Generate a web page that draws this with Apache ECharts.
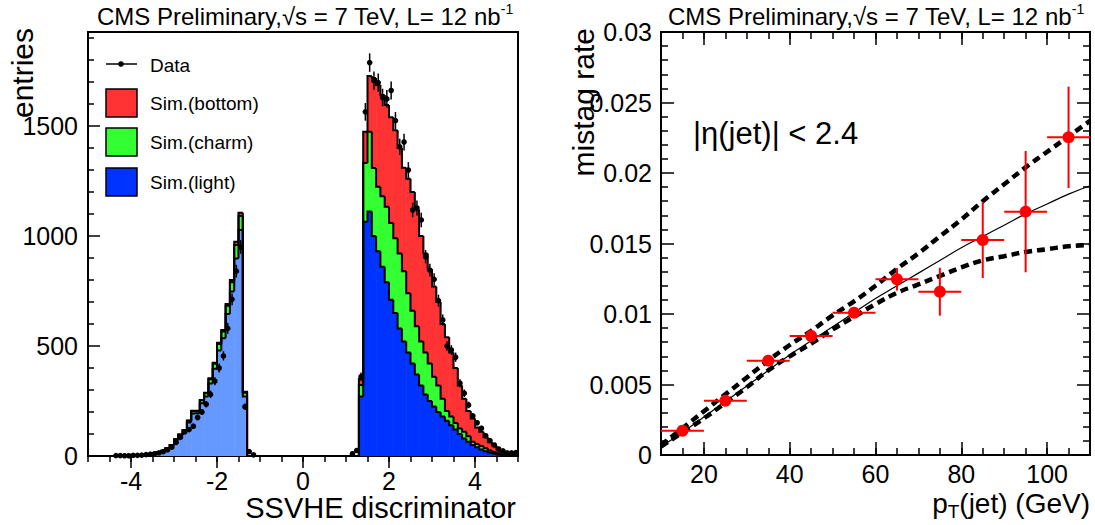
<!DOCTYPE html>
<html>
<head>
<meta charset="utf-8">
<script src="https://cdn.jsdelivr.net/npm/echarts@6/dist/echarts.min.js"></script>
<style>
  html, body { margin: 0; padding: 0; background: #fff; }
  #main { width: 1095px; height: 525px; }
</style>
</head>
<body>
<div id="main"></div>
<script>
// ---- left panel: SSVHE discriminator, bins 0.1 wide (bin centres) ----
const negBins = [-4.35, -4.25, -4.15, -4.05, -3.95, -3.85, -3.75, -3.65, -3.55, -3.45, -3.35, -3.25, -3.15, -3.05, -2.95, -2.85,
  -2.75, -2.65, -2.55, -2.45, -2.35, -2.25, -2.15, -2.05, -1.95, -1.85, -1.75, -1.65, -1.55, -1.45, -1.35];
const negLight = [0, 1, 1, 2, 2, 3, 4, 5, 7, 11, 16, 22, 33, 47, 72, 93, 111, 152, 193, 194, 240, 270, 330, 396, 480, 535, 645, 748, 898, 1027, 270];
const negCharm = [0, 0, 0, 0, 0, 0, 0, 0, 0, 1, 1, 2, 2, 3, 4, 5, 6, 8, 11, 10, 13, 15, 19, 23, 29, 31, 38, 42, 61, 64, 18];
const negBottom = [0, 0, 0, 0, 0, 0, 0, 0, 0, 0, 0, 0, 0, 0, 0, 0, 1, 1, 2, 2, 2, 3, 4, 5, 6, 7, 8, 10, 15, 15, 4];

const posBins = [1.35, 1.45, 1.55, 1.65, 1.75, 1.85, 1.95, 2.05, 2.15, 2.25, 2.35, 2.45, 2.55, 2.65, 2.75, 2.85, 2.95, 3.05, 3.15,
  3.25, 3.35, 3.45, 3.55, 3.65, 3.75, 3.85, 3.95, 4.05, 4.15, 4.25, 4.35, 4.45, 4.55, 4.65, 4.75, 4.85, 4.95];
const posLight = [270, 1065, 1111, 1000, 930, 860, 790, 710, 650, 580, 520, 470, 420, 370, 320, 280, 250, 225, 200, 180, 160, 140,
  120, 100, 80, 65, 50, 40, 30, 22, 16, 11, 7, 5, 3, 2, 1];
const posCharm = [53, 267, 363, 309, 294, 320, 343, 349, 340, 340, 320, 270, 240, 220, 200, 190, 170, 135, 120, 80, 45, 40, 30, 25,
  30, 25, 15, 15, 15, 13, 9, 7, 5, 3, 2, 1, 1];
const posBottom = [27, 142, 253, 409, 462, 461, 462, 481, 490, 480, 470, 520, 540, 530, 480, 450, 430, 410, 380, 340, 335, 290, 250,
  195, 150, 115, 105, 75, 65, 50, 37, 30, 20, 14, 10, 7, 4];

const dataBins = [-4.35, -4.25, -4.15, -4.05, -3.95, -3.85, -3.75, -3.65, -3.55, -3.45, -3.35, -3.25, -3.15, -3.05, -2.95, -2.85,
  -2.75, -2.65, -2.55, -2.45, -2.35, -2.25, -2.15, -2.05, -1.95, -1.85, -1.75, -1.65, -1.55, -1.45, -1.35, -1.25, -1.15,
  1.15, 1.25, 1.35, 1.45, 1.55, 1.65, 1.75, 1.85, 1.95, 2.05, 2.15, 2.25, 2.35, 2.45, 2.55, 2.65, 2.75, 2.85, 2.95, 3.05,
  3.15, 3.25, 3.35, 3.45, 3.55, 3.65, 3.75, 3.85, 3.95, 4.05, 4.15, 4.25, 4.35, 4.45, 4.55, 4.65, 4.75, 4.85, 4.95];
const dataCounts = [2, 2, 1, 1, 3, 3, 4, 6, 8, 10, 14, 20, 28, 40, 62, 85, 110, 120, 135, 175, 200, 235, 280, 340, 400, 455, 580,
  712, 840, 950, 224, 20, 5,
  10, 25, 360, 1564, 1788, 1706, 1697, 1629, 1623, 1661, 1524, 1405, 1427, 1300, 1118, 1127, 1073, 906, 845, 803, 706, 618,
  500, 482, 449, 331, 285, 232, 182, 151, 126, 92, 70, 50, 32, 23, 14, 14, 15];
const dataErr = [1, 1, 1, 1, 2, 2, 2, 2, 3, 3, 4, 4, 5, 6, 8, 9, 10, 11, 12, 13, 14, 15, 17, 18, 20, 21, 24, 27, 29, 31, 15, 4, 2,
  3, 5, 19, 40, 42, 41, 41, 40, 40, 41, 39, 37, 38, 36, 33, 34, 33, 30, 29, 28, 27, 25, 22, 22, 21, 18, 17, 15, 13, 12, 11,
  10, 8, 7, 6, 5, 4, 4, 4];

const discTicks = [-4, -2, 0, 2, 4];

// ---- right panel: mistag rate vs jet pT ----
const mistagPt = [15, 25, 35, 45, 55, 65, 75, 85, 95, 105];
const mistagPtErr = [5, 5, 5, 5, 5, 5, 5, 5, 5, 5];
const mistagRate = [0.00172, 0.00385, 0.00669, 0.00844, 0.01009, 0.01246, 0.01158, 0.01525, 0.01726, 0.02253];
const mistagErr = [0.0001, 0.0002, 0.0002, 0.0003, 0.0003, 0.0008, 0.0017, 0.0027, 0.0043, 0.0036];

const fitPt = [10, 15, 20, 25, 30, 35, 40, 45, 50, 55, 60, 65, 70, 75, 80, 85, 90, 95, 100, 105, 110];
const fitRate = [0.0006, 0.0016, 0.0027, 0.0038, 0.0049, 0.0060, 0.0071, 0.0081, 0.0091, 0.0101, 0.0111, 0.0120, 0.0129,
  0.0138, 0.0147, 0.0155, 0.0163, 0.0171, 0.0178, 0.0185, 0.0191];
const fitUp = [0.0007, 0.0019, 0.0031, 0.0043, 0.0055, 0.0067, 0.0078, 0.0088, 0.0099, 0.0109, 0.0120, 0.0132, 0.0143,
  0.0155, 0.0167, 0.0180, 0.0192, 0.0204, 0.0215, 0.0226, 0.0237];
const fitDown = [0.0006, 0.0016, 0.0026, 0.0037, 0.0048, 0.0060, 0.0070, 0.0079, 0.0089, 0.0098, 0.0107, 0.0115, 0.0121,
  0.0127, 0.0133, 0.0138, 0.0141, 0.0144, 0.0146, 0.0148, 0.0149];

const ptTicks = [20, 40, 60, 80, 100];

const FONT = '"Liberation Sans", Arial, Helvetica, sans-serif';
const HALF = 0.05;

const chart = echarts.init(document.getElementById('main'), null, { renderer: 'svg' });

// stacked step histogram: fills per bin, black outline per cumulative level
function stackRender(rows, colors) {
  const level = (i, k) => {
    if (i < 0 || i >= rows.length) return 0;
    let s = 0;
    for (let j = 1; j <= k + 1; j++) s += rows[i][j];
    return s;
  };
  return function (params, api) {
    const i = params.dataIndex;
    const lo = rows[i][0] - HALF, hi = rows[i][0] + HALF;
    const children = [];
    for (let k = 0; k < colors.length; k++) {
      const a = api.coord([lo, level(i, k)]);
      const b = api.coord([hi, k === 0 ? 0 : level(i, k - 1)]);
      children.push({
        type: 'rect',
        shape: { x: a[0], y: a[1], width: b[0] - a[0] + 0.6, height: b[1] - a[1] },
        style: { fill: colors[k] }
      });
    }
    for (let k = 0; k < colors.length; k++) {
      const pts = [[lo, level(i - 1, k)], [lo, level(i, k)], [hi, level(i, k)]];
      if (i === rows.length - 1) pts.push([hi, 0]);
      children.push({
        type: 'polyline',
        z2: 10,
        shape: { points: pts.map(p => api.coord(p)) },
        style: { stroke: '#000', lineWidth: 2, fill: 'none' }
      });
    }
    return { type: 'group', children };
  };
}

function pointRender(color, r, lw) {
  return function (params, api) {
    const x = api.value(0), y = api.value(1), ey = api.value(2), ex = api.value(3);
    const c = api.coord([x, y]);
    const up = api.coord([x, y + ey]);
    const dn = api.coord([x, y - ey]);
    const children = [{
      type: 'line',
      shape: { x1: c[0], y1: up[1], x2: c[0], y2: dn[1] },
      style: { stroke: color, lineWidth: lw }
    }];
    if (ex) {
      const l = api.coord([x - ex, y]), rr = api.coord([x + ex, y]);
      children.push({
        type: 'line',
        shape: { x1: l[0], y1: c[1], x2: rr[0], y2: c[1] },
        style: { stroke: color, lineWidth: lw }
      });
    }
    children.push({ type: 'circle', shape: { cx: c[0], cy: c[1], r }, style: { fill: color } });
    return { type: 'group', children };
  };
}

const negRows = negBins.map((x, i) => [x, negLight[i], negCharm[i], negBottom[i]]);
const posRows = posBins.map((x, i) => [x, posLight[i], posCharm[i], posBottom[i]]);
const dataRows = dataBins.map((x, i) => [x, dataCounts[i], dataErr[i], 0]);
const mistagRows = mistagPt.map((x, i) => [x, mistagRate[i], mistagErr[i], mistagPtErr[i]]);

const tickStyle = { color: '#000', width: 1.5 };
const labelStyle = { color: '#000', fontSize: 25, fontFamily: FONT, formatter: v => String(v) };
const noLine = { show: false, onZero: false };

const option = {
  animation: false,
  backgroundColor: '#fff',
  grid: [
    { left: 88, top: 32, width: 430, height: 424, show: true, borderColor: '#000', borderWidth: 2, outerBoundsMode: 'none' },
    { left: 661, top: 32, width: 429, height: 423, show: true, borderColor: '#000', borderWidth: 2, outerBoundsMode: 'none' }
  ],
  xAxis: [
    { gridIndex: 0, type: 'value', min: -5, max: 5, interval: 0.5, position: 'bottom',
      axisLine: noLine, splitLine: { show: false },
      axisTick: { inside: false, length: 6, lineStyle: tickStyle },
      axisLabel: Object.assign({ customValues: discTicks, margin: 12 }, labelStyle) },
    { gridIndex: 0, type: 'value', min: -5, max: 5, position: 'bottom',
      axisLine: noLine, splitLine: { show: false }, axisLabel: { show: false },
      axisTick: { inside: false, length: 12, customValues: discTicks, lineStyle: tickStyle } },
    { gridIndex: 1, type: 'value', min: 10, max: 110, interval: 5, position: 'bottom',
      axisLine: noLine, splitLine: { show: false },
      axisTick: { inside: true, length: 7, lineStyle: tickStyle },
      axisLabel: Object.assign({ customValues: ptTicks, margin: 6 }, labelStyle) },
    { gridIndex: 1, type: 'value', min: 10, max: 110, position: 'bottom',
      axisLine: noLine, splitLine: { show: false }, axisLabel: { show: false },
      axisTick: { inside: true, length: 13, customValues: ptTicks, lineStyle: tickStyle } },
    { gridIndex: 1, type: 'value', min: 10, max: 110, interval: 5, position: 'top',
      axisLine: noLine, splitLine: { show: false }, axisLabel: { show: false },
      axisTick: { inside: true, length: 7, lineStyle: tickStyle } },
    { gridIndex: 1, type: 'value', min: 10, max: 110, position: 'top',
      axisLine: noLine, splitLine: { show: false }, axisLabel: { show: false },
      axisTick: { inside: true, length: 13, customValues: ptTicks, lineStyle: tickStyle } }
  ],
  yAxis: [
    { gridIndex: 0, type: 'value', min: 0, max: 1927, interval: 500, position: 'left',
      axisLine: noLine, splitLine: { show: false },
      axisTick: { inside: true, length: 12, lineStyle: tickStyle },
      minorTick: { show: true, splitNumber: 5, length: 6, lineStyle: tickStyle },
      axisLabel: Object.assign({ margin: 10, showMaxLabel: false }, labelStyle) },
    { gridIndex: 1, type: 'value', min: 0, max: 0.03, interval: 0.005, position: 'left',
      axisLine: noLine, splitLine: { show: false },
      axisTick: { inside: true, length: 13, lineStyle: tickStyle },
      minorTick: { show: true, splitNumber: 5, length: 7, lineStyle: tickStyle },
      axisLabel: Object.assign({ margin: 9 }, labelStyle) },
    { gridIndex: 1, type: 'value', min: 0, max: 0.03, interval: 0.005, position: 'right',
      axisLine: noLine, splitLine: { show: false }, axisLabel: { show: false },
      axisTick: { inside: true, length: 13, lineStyle: tickStyle },
      minorTick: { show: true, splitNumber: 5, length: 7, lineStyle: tickStyle } }
  ],
  series: [
    { type: 'custom', name: 'mc-neg', xAxisIndex: 0, yAxisIndex: 0, z: 2,
      renderItem: stackRender(negRows, ['#6699ff', '#33ff33', '#ff3333']),
      encode: { x: 0, y: 1 }, data: negRows },
    { type: 'custom', name: 'mc-pos', xAxisIndex: 0, yAxisIndex: 0, z: 2,
      renderItem: stackRender(posRows, ['#0033ff', '#33ff33', '#ff3333']),
      encode: { x: 0, y: 1 }, data: posRows },
    { type: 'custom', name: 'Data', xAxisIndex: 0, yAxisIndex: 0, z: 5,
      renderItem: pointRender('#000', 2.8, 1.5),
      encode: { x: 0, y: 1 }, data: dataRows },
    { type: 'line', name: 'fit', xAxisIndex: 2, yAxisIndex: 1, z: 3, smooth: true, showSymbol: false,
      lineStyle: { color: '#000', width: 1.2 },
      data: fitPt.map((x, i) => [x, fitRate[i]]) },
    { type: 'line', name: 'fit up', xAxisIndex: 2, yAxisIndex: 1, z: 3, smooth: true, showSymbol: false,
      lineStyle: { color: '#000', width: 4.5, type: [8, 5] },
      data: fitPt.map((x, i) => [x, fitUp[i]]) },
    { type: 'line', name: 'fit down', xAxisIndex: 2, yAxisIndex: 1, z: 3, smooth: true, showSymbol: false,
      lineStyle: { color: '#000', width: 4.5, type: [8, 5] },
      data: fitPt.map((x, i) => [x, fitDown[i]]) },
    { type: 'custom', name: 'mistag', xAxisIndex: 2, yAxisIndex: 1, z: 5,
      renderItem: pointRender('#ff0000', 6, 2),
      encode: { x: 0, y: 1 }, data: mistagRows }
  ],
  graphic: [
    // titles
    { type: 'text', x: 305, y: 16, style: {
        text: 'CMS Preliminary,√s = 7 TeV, L= 12 nb{sup|-1}', align: 'center', verticalAlign: 'middle',
        fontSize: 24, fontFamily: FONT, fill: '#000',
        rich: { sup: { fontSize: 14, fontFamily: FONT, padding: [0, 0, 14, 0] } } } },
    { type: 'text', x: 876, y: 16, style: {
        text: 'CMS Preliminary,√s = 7 TeV, L= 12 nb{sup|-1}', align: 'center', verticalAlign: 'middle',
        fontSize: 24, fontFamily: FONT, fill: '#000',
        rich: { sup: { fontSize: 14, fontFamily: FONT, padding: [0, 0, 14, 0] } } } },
    // axis titles
    { type: 'text', x: 22, y: 28, rotation: Math.PI / 2, style: {
        text: 'entries', align: 'right', verticalAlign: 'middle', fontSize: 30, fontFamily: FONT, fill: '#000' } },
    { type: 'text', x: 516, y: 508, style: {
        text: 'SSVHE discriminator', align: 'right', verticalAlign: 'middle', fontSize: 29, fontFamily: FONT, fill: '#000' } },
    { type: 'text', x: 583, y: 28, rotation: Math.PI / 2, style: {
        text: 'mistag rate', align: 'right', verticalAlign: 'middle', fontSize: 30, fontFamily: FONT, fill: '#000' } },
    { type: 'text', x: 1090, y: 503, style: {
        text: 'p{sub|T}(jet) (GeV)', align: 'right', verticalAlign: 'middle', fontSize: 28, fontFamily: FONT, fill: '#000',
        rich: { sub: { fontSize: 19, fontFamily: FONT, padding: [16, 0, 0, 0] } } } },
    { type: 'text', x: 693, y: 133, style: {
        text: '|η(jet)| < 2.4', align: 'left', verticalAlign: 'middle', fontSize: 31, fontFamily: FONT, fill: '#000' } },
    // legend
    { type: 'line', shape: { x1: 106, y1: 64, x2: 137, y2: 64 }, style: { stroke: '#000', lineWidth: 1.5 } },
    { type: 'circle', shape: { cx: 121, cy: 64, r: 2.8 }, style: { fill: '#000' } },
    { type: 'text', x: 150, y: 65, style: { text: 'Data', verticalAlign: 'middle', fontSize: 19, fontFamily: FONT, fill: '#000' } },
    { type: 'rect', shape: { x: 106, y: 89, width: 31, height: 28 }, style: { fill: '#ff3333', stroke: '#000', lineWidth: 1.5 } },
    { type: 'text', x: 150, y: 103, style: { text: 'Sim.(bottom)', verticalAlign: 'middle', fontSize: 19, fontFamily: FONT, fill: '#000' } },
    { type: 'rect', shape: { x: 106, y: 128, width: 31, height: 28 }, style: { fill: '#33ff33', stroke: '#000', lineWidth: 1.5 } },
    { type: 'text', x: 150, y: 142, style: { text: 'Sim.(charm)', verticalAlign: 'middle', fontSize: 19, fontFamily: FONT, fill: '#000' } },
    { type: 'rect', shape: { x: 106, y: 168, width: 31, height: 28 }, style: { fill: '#0033ff', stroke: '#000', lineWidth: 1.5 } },
    { type: 'text', x: 150, y: 182, style: { text: 'Sim.(light)', verticalAlign: 'middle', fontSize: 19, fontFamily: FONT, fill: '#000' } }
  ]
};

chart.setOption(option);
</script>
</body>
</html>
